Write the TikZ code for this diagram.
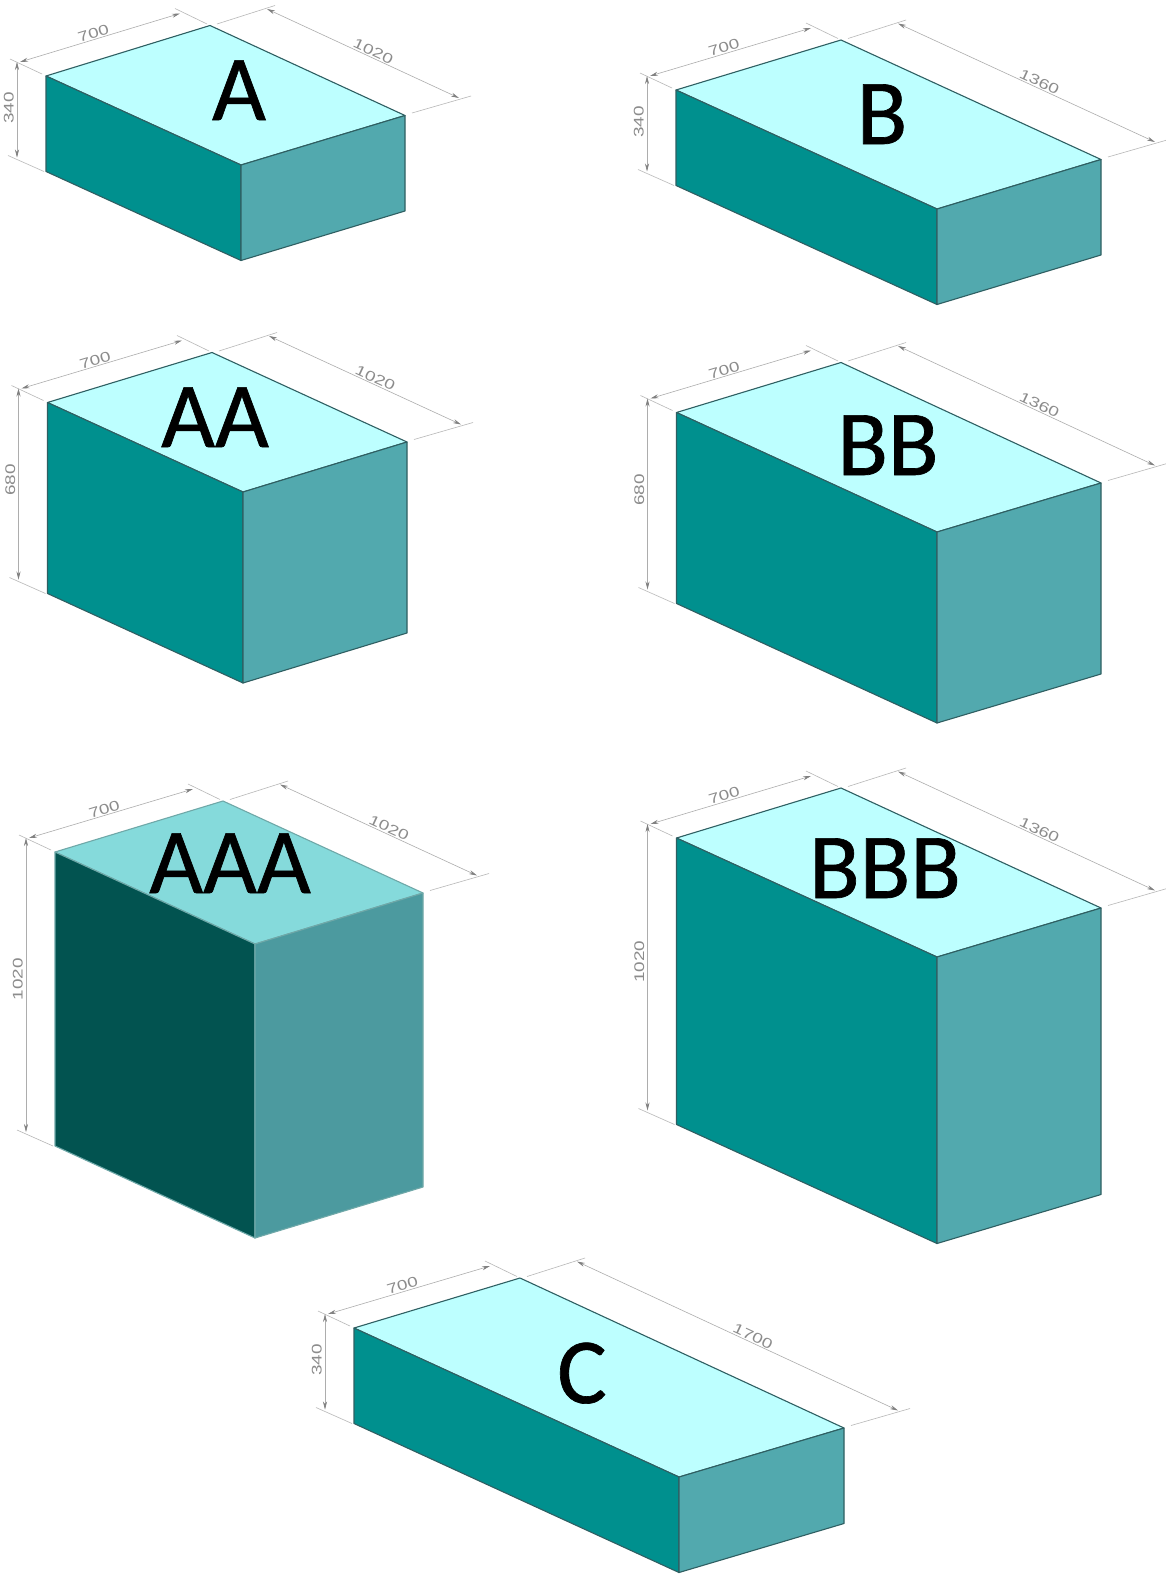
\documentclass[tikz,border=0pt]{standalone}
\usepackage{fontspec}
\usetikzlibrary{calc,arrows.meta}
\setmainfont{Carlito}
\newfontfamily\dimfont[FakeStretch=1.35]{Liberation Sans}
\newfontfamily\namefont[FakeBold=0.7]{Carlito}

\definecolor{plaintop}{HTML}{BDFFFF}
\definecolor{plainleft}{HTML}{00908E}
\definecolor{plainright}{HTML}{52A9AE}
\definecolor{plainedge}{HTML}{2F5F62}
\definecolor{shadetop}{HTML}{85DADB}
\definecolor{shadeleft}{HTML}{025350}
\definecolor{shaderight}{HTML}{4C9A9F}
\definecolor{shadeedge}{HTML}{6FA8A8}

\tikzset{
	dimline/.style={draw=black!32,line width=0.6pt,{Stealth[length=8pt,width=4pt,black!50]}-{Stealth[length=8pt,width=4pt,black!50]}},
	dimext/.style={draw=black!28,line width=0.6pt},
	dimtext/.style={font=\dimfont\fontsize{14}{14}\selectfont,text=black!45,inner sep=1pt},
	boxname/.style={font=\namefont\fontsize{93}{93}\selectfont,text=black,anchor=base,inner sep=0pt}
}

% #1 name, #2 left, #3 back, #4 right, #5 front, #6 height, #7 length text, #8 height text, #9 colours
\newcommand{\isobox}[9]{
	\coordinate (#1lt) at (#2);
	\coordinate (#1bk) at (#3);
	\coordinate (#1rt) at (#4);
	\coordinate (#1fr) at (#5);
	\coordinate (#1ld) at ($(#1lt)+(0,#6)$);
	\coordinate (#1rd) at ($(#1rt)+(0,#6)$);
	\coordinate (#1fd) at ($(#1fr)+(0,#6)$);
	\draw[draw=#9edge,line width=1.1pt,fill=#9top,line join=round] (#1lt) -- (#1bk) -- (#1rt) -- (#1fr) -- cycle;
	\draw[draw=#9edge,line width=1.1pt,fill=#9left,line join=round] (#1lt) -- (#1fr) -- (#1fd) -- (#1ld) -- cycle;
	\draw[draw=#9edge,line width=1.1pt,fill=#9right,line join=round] (#1fr) -- (#1rt) -- (#1rd) -- (#1fd) -- cycle;
	\draw[dimext] ($(#1lt)+(-36,-17)$) -- ($(#1lt)+(-4,-2)$);
	\draw[dimext] ($(#1ld)+(-38,-16)$) -- ($(#1ld)+(-2,0)$);
	\draw[dimext] ($(#1bk)+(-35,-17)$) -- ($(#1bk)+(-3,-1.5)$);
	\draw[dimext] ($(#1bk)+(7,-1.5)$) -- ($(#1bk)+(65,-20)$);
	\draw[dimext] ($(#1rt)+(7,-2.5)$) -- ($(#1rt)+(66,-19.5)$);
	\path[dimline] ($(#1lt)+(-26,-14)$) -- node[pos=.47,sloped,above,dimtext] (#1w) {700} ($(#1bk)+(-30,-12)$);
	\path[dimline] ($(#1bk)+(57,-16.5)$) -- node[pos=.54,sloped,above,dimtext] (#1l) {#7} ($(#1rt)+(54,-17.5)$);
	\path[dimline] ($(#1lt)+(-29,-14)$) -- node[pos=.48,rotate=90,anchor=south,dimtext,yshift=2pt] (#1h) {#8} ($(#1ld)+(-29,-14)$);
}

\begin{document}
\begin{tikzpicture}[x=1pt,y=-1pt]
	\useasboundingbox (0,0) rectangle (1166,1574);
	\fill[white] (0,0) rectangle (1166,1574);
	\isobox{a}{46,76}{210,25.5}{405,115.5}{241,165}{95.5}{1020}{340}{plain}
	\isobox{b}{676,90}{841,40}{1101,159.5}{937,209}{95.5}{1360}{340}{plain}
	\isobox{aa}{47.5,402.5}{212,352.5}{407,442}{243,492}{191}{1020}{680}{plain}
	\isobox{bb}{676.5,412.5}{841,362.5}{1101,483}{937,532}{191}{1360}{680}{plain}
	\isobox{aaa}{55,852}{223,801}{423,893}{255,944}{294}{1020}{1020}{shade}
	\isobox{bbb}{676.5,838}{841,788}{1101,908}{937,957}{286.5}{1360}{1020}{plain}
	\isobox{c}{354,1328}{520,1278}{844,1428}{679,1477}{95.5}{1700}{340}{plain}
	\node[boxname] (namea) at (239,120) {A};
	\node[boxname] (nameb) at (882,144) {B};
	\node[boxname] (nameaa) at (215,447) {AA};
	\node[boxname] (namebb) at (888,475) {BB};
	\node[boxname] (nameaaa) at (230,893) {AAA};
	\node[boxname] (namebbb) at (885,898) {BBB};
	\node[boxname] (namec) at (582,1403) {C};
\end{tikzpicture}
\end{document}
